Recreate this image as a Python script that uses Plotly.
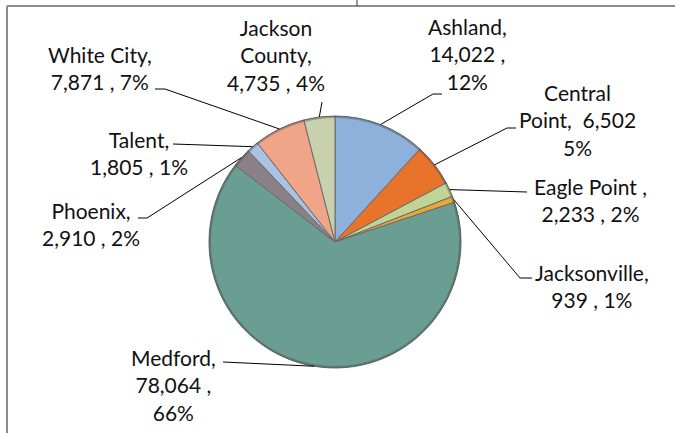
import math
import plotly.graph_objects as go

# Population by community, Jackson County
places = ["Ashland", "Central Point", "Eagle Point", "Jacksonville", "Medford",
          "Phoenix", "Talent", "White City", "Jackson County"]
population = [14022, 6502, 2233, 939, 78064, 2910, 1805, 7871, 4735]
share_text = ["12%", "5%", "2%", "1%", "66%", "2%", "1%", "7%", "4%"]

slice_colors = ["#8EB1DB", "#E8732A", "#C2D495", "#E8A838", "#6A9E92",
                "#8A8088", "#A9C3E3", "#F0A488", "#C8D0AE"]

# How each data label is broken into lines
label_templates = [
    "{name},<br>{value} ,<br>{pct}",
    "{name},  {value}<br>{pct}",
    "{name} ,<br>{value} , {pct}",
    "{name},<br>{value} , {pct}",
    "{name},<br>{value} ,<br>{pct}",
    "{name},<br>{value} , {pct}",
    "{name},<br>{value} , {pct}",
    "{name},<br>{value} , {pct}",
    "{name},<br>{value} , {pct}",
]
wrap_name = [False, True, False, False, False, False, False, False, True]

# Label centres and leader-line elbows, in pixels from the top-left corner
label_pos = [(467, 54), (577, 120), (590, 200), (592, 286), (173, 385),
             (91, 224), (139, 153), (100, 68), (276, 55)]
leader_elbows = [
    [(433, 94), (442, 94)],
    [(507, 128), (516, 128)],
    [(527, 192)],
    [(520, 278), (532, 278)],
    [(223, 362)],
    [(147, 218), (138, 218)],
    [(173, 144)],
    [(165, 89), (155, 89)],
    [(322, 102)],
]

W, H = 675, 433
CX, CY, R = 335, 242, 126   # pie centre and radius in pixels


def px(x):
    return x / W


def py(y):
    return 1 - y / H


fig = go.Figure()
fig.add_trace(go.Pie(
    labels=places,
    values=population,
    sort=False,
    direction="clockwise",
    rotation=0,
    textinfo="none",
    hoverinfo="label+value+percent",
    marker=dict(colors=slice_colors, line=dict(color="#6a6a6a", width=1)),
    domain=dict(x=[px(CX - R), px(CX + R)], y=[py(CY + R), py(CY - R)]),
    showlegend=False,
))

total = sum(population)
annotations = []
shapes = []

# soft darker rim around the pie
shapes.append(dict(type="circle", xref="paper", yref="paper",
                   x0=px(CX - R + 1), x1=px(CX + R - 1),
                   y0=py(CY + R - 1), y1=py(CY - R + 1),
                   line=dict(color="rgba(60,60,60,0.35)", width=2)))

cum = 0
for i, (name, val) in enumerate(zip(places, population)):
    mid = (cum + val / 2) / total * 2 * math.pi
    cum += val
    # point on the rim at the slice's mid angle
    sx = CX + R * math.sin(mid)
    sy = CY - R * math.cos(mid)
    shown_name = name.replace(" ", "<br>") if wrap_name[i] else name
    text = label_templates[i].format(name=shown_name, value=f"{val:,}", pct=share_text[i])
    lx, ly = label_pos[i]
    annotations.append(dict(
        x=px(lx), y=py(ly), xref="paper", yref="paper",
        text=text, showarrow=False, align="center",
        xanchor="center", yanchor="middle",
        font=dict(family="Lato", size=21, color="#111111"),
    ))
    pts = [(sx, sy)] + leader_elbows[i]
    path = "M " + " L ".join(f"{px(x)},{py(y)}" for x, y in pts)
    shapes.append(dict(type="path", path=path, xref="paper", yref="paper",
                       line=dict(color="#000000", width=1)))

# chart frame (top and left edges) and the short tick above it
shapes.append(dict(type="line", xref="paper", yref="paper",
                   x0=px(7), y0=py(6), x1=1, y1=py(6),
                   line=dict(color="#8c8c8c", width=2)))
shapes.append(dict(type="line", xref="paper", yref="paper",
                   x0=px(7), y0=py(6), x1=px(7), y1=0,
                   line=dict(color="#8c8c8c", width=2)))
shapes.append(dict(type="line", xref="paper", yref="paper",
                   x0=px(357), y0=1, x1=px(357), y1=py(6),
                   line=dict(color="#333333", width=1)))

fig.update_layout(
    width=W, height=H,
    margin=dict(l=0, r=0, t=0, b=0),
    paper_bgcolor="white",
    plot_bgcolor="white",
    annotations=annotations,
    shapes=shapes,
)

fig.write_html("out.html")
